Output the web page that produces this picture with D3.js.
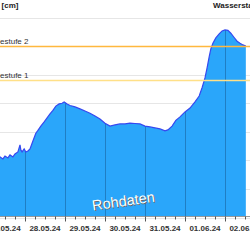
<!DOCTYPE html>
<html>
<head>
<meta charset="utf-8">
<script src="https://cdn.jsdelivr.net/npm/d3@7"></script>
<style>
  body { margin: 0; background: #fff; }
  text { font-family: "Liberation Sans", Arial, sans-serif; }
</style>
</head>
<body>
<div id="vis"></div>
<script>
// water level readings (cm)
var times = [
  "2024-05-27T06:00", "2024-05-27T09:00", "2024-05-27T10:45", "2024-05-27T12:00", "2024-05-27T13:45",
  "2024-05-27T15:00", "2024-05-27T16:45", "2024-05-27T18:00", "2024-05-27T19:45", "2024-05-27T21:00",
  "2024-05-27T21:30", "2024-05-27T22:15", "2024-05-27T23:30", "2024-05-28T00:30", "2024-05-28T01:45",
  "2024-05-28T03:00", "2024-05-28T04:45", "2024-05-28T06:30", "2024-05-28T07:45", "2024-05-28T09:30",
  "2024-05-28T11:30", "2024-05-28T13:15", "2024-05-28T15:00", "2024-05-28T16:45", "2024-05-28T18:30",
  "2024-05-28T20:30", "2024-05-28T22:15", "2024-05-28T23:30", "2024-05-29T01:15", "2024-05-29T03:00",
  "2024-05-29T06:00", "2024-05-29T09:00", "2024-05-29T12:00", "2024-05-29T15:00", "2024-05-29T18:00",
  "2024-05-29T21:00", "2024-05-30T00:00", "2024-05-30T03:00", "2024-05-30T06:00", "2024-05-30T09:00",
  "2024-05-30T12:00", "2024-05-30T15:00", "2024-05-30T18:00", "2024-05-30T21:00", "2024-05-31T00:00",
  "2024-05-31T03:00", "2024-05-31T06:00", "2024-05-31T09:00", "2024-05-31T12:00", "2024-05-31T13:45",
  "2024-05-31T16:15", "2024-05-31T18:30", "2024-05-31T21:00", "2024-06-01T00:00", "2024-06-01T03:00",
  "2024-06-01T06:00", "2024-06-01T08:30", "2024-06-01T10:15", "2024-06-01T12:00", "2024-06-01T13:15",
  "2024-06-01T14:30", "2024-06-01T15:30", "2024-06-01T16:45", "2024-06-01T18:30", "2024-06-01T20:30",
  "2024-06-01T22:15", "2024-06-02T00:00", "2024-06-02T01:45", "2024-06-02T03:30", "2024-06-02T05:30",
  "2024-06-02T07:15", "2024-06-02T09:00", "2024-06-02T10:45", "2024-06-02T12:30"
];
var levels = [
  342, 342.4, 341, 343, 341.7,
  343.8, 342.4, 344.5, 345.9, 350.8,
  347.3, 345.9, 348, 345.9, 346.6,
  348, 353.6, 359, 361, 364,
  366.9, 369.7, 372.5, 375, 378,
  379.5, 380, 380.9, 379.5, 378.4,
  377.4, 376, 374.6, 373, 371,
  369, 366, 364, 364.8, 365.5,
  365.5, 366, 365.8, 365.5, 364,
  363.4, 362.7, 362, 360.6, 361.3,
  364, 368, 370.4, 373.9, 376.6,
  380.9, 385, 390.8, 397.7, 404.7,
  412.4, 418, 422, 425.7, 428.5,
  430.6, 431.3, 431, 429, 426,
  423.4, 422, 420.8, 420
];
var levelTicks = [300, 320, 340, 360, 380, 400, 420, 440];
var warnNames = ["Meldestufe 2", "Meldestufe 1"];
var warnLevels = [420, 396];
var warnColors = ["#ffb83f", "#ffe088"];

var width = 250, height = 250;
var parse = d3.timeParse("%Y-%m-%dT%H:%M");

var data = times.map(function(t, i) {
  return { date: parse(t), value: levels[i] };
});

var svg = d3.select("#vis")
  .append("svg")
    .attr("width", width)
    .attr("height", height);

// plot region is wider than the window, left part is cut off
var x = d3.scaleTime()
  .domain([parse("2024-05-27T00:00"), parse("2024-06-02T00:00")])
  .range([-15, 225]);

var y = d3.scaleLinear()
  .domain([300, 440])
  .range([217.5, 17.5]);

var plotBottom = 216.5;

// horizontal grid
svg.append("g")
  .selectAll("line")
  .data(levelTicks)
  .enter()
  .append("line")
    .attr("x1", -60).attr("x2", width)
    .attr("y1", function(d) { return Math.round(y(d)) + 0.5; })
    .attr("y2", function(d) { return Math.round(y(d)) + 0.5; })
    .attr("stroke", "#e6e6e6")
    .attr("stroke-width", 1);

var area = d3.area()
  .x(function(d) { return x(d.date); })
  .y0(plotBottom)
  .y1(function(d) { return y(d.value); });

var line = d3.line()
  .x(function(d) { return x(d.date); })
  .y(function(d) { return y(d.value); });

svg.append("clipPath")
    .attr("id", "areaclip")
  .append("path")
    .attr("d", area(data));

svg.append("path")
  .attr("d", area(data))
  .attr("fill", "#2aa6fa");

// day lines, only visible inside the fill
var days = x.ticks(d3.timeDay.every(1));
svg.append("g")
    .attr("clip-path", "url(#areaclip)")
  .selectAll("line")
  .data(days)
  .enter()
  .append("line")
    .attr("x1", function(d) { return Math.round(x(d)) + 0.5; })
    .attr("x2", function(d) { return Math.round(x(d)) + 0.5; })
    .attr("y1", 0).attr("y2", plotBottom)
    .attr("stroke", "#1f7ec4")
    .attr("stroke-width", 1);

svg.append("path")
  .attr("d", line(data))
  .attr("fill", "none")
  .attr("stroke", "#3548f0")
  .attr("stroke-width", 1.2);

// warning levels
var warn = svg.append("g")
  .selectAll("g")
  .data(warnLevels)
  .enter()
  .append("g");

warn.append("line")
  .attr("x1", -60).attr("x2", width)
  .attr("y1", function(d) { return Math.round(y(d)) + 0.5; })
  .attr("y2", function(d) { return Math.round(y(d)) + 0.5; })
  .attr("stroke", function(d, i) { return warnColors[i]; })
  .attr("stroke-width", 1.5);

warn.append("text")
  .attr("x", 28.5)
  .attr("y", function(d) { return Math.round(y(d)) - 2; })
  .attr("text-anchor", "end")
  .style("font-size", "8px")
  .attr("fill", "#333")
  .text(function(d, i) { return warnNames[i]; });

// x axis: ticks every 6 hours, longer at midnight
var xAxisG = svg.append("g");

xAxisG.append("line")
  .attr("x1", 0).attr("x2", width)
  .attr("y1", plotBottom).attr("y2", plotBottom)
  .attr("stroke", "#9a9a9a");

xAxisG.selectAll(".minor")
  .data(x.ticks(d3.timeHour.every(6)).concat([parse("2024-06-02T06:00"), parse("2024-06-02T12:00"), parse("2024-06-02T18:00")]))
  .enter()
  .append("line")
    .attr("class", "minor")
    .attr("x1", function(d) { return Math.round(x(d)) + 0.5; })
    .attr("x2", function(d) { return Math.round(x(d)) + 0.5; })
    .attr("y1", plotBottom)
    .attr("y2", function(d) { return d.getHours() === 0 ? plotBottom + 5 : plotBottom + 3; })
    .attr("stroke", "#555");

var labelDays = d3.timeDay.range(parse("2024-05-27T00:00"), parse("2024-06-03T00:00"));
xAxisG.selectAll(".lbl")
  .data(labelDays)
  .enter()
  .append("text")
    .attr("class", "lbl")
    .attr("x", function(d) { return x(d3.timeHour.offset(d, 12)); })
    .attr("y", 231)
    .attr("text-anchor", "middle")
    .style("font-size", "8px")
    .style("font-weight", "bold")
    .attr("fill", "#333")
    .text(d3.timeFormat("%d.%m.%y"));

// titles
svg.append("text")
  .attr("x", 18.5).attr("y", 8)
  .attr("text-anchor", "end")
  .style("font-size", "8px")
  .style("font-weight", "bold")
  .attr("fill", "#222")
  .text("Pegel [cm]");

svg.append("text")
  .attr("x", 213).attr("y", 8)
  .style("font-size", "8px")
  .style("font-weight", "bold")
  .attr("fill", "#222")
  .text("Wasserstand");

// watermark
var wm = svg.append("g")
  .attr("transform", "translate(124,206) rotate(-8)");

wm.append("text")
  .attr("x", 1).attr("y", 1)
  .attr("text-anchor", "middle")
  .style("font-size", "14.5px")
  .attr("fill", "#666")
  .text("Rohdaten");

wm.append("text")
  .attr("text-anchor", "middle")
  .style("font-size", "14.5px")
  .attr("fill", "#fff")
  .text("Rohdaten");
</script>
</body>
</html>
